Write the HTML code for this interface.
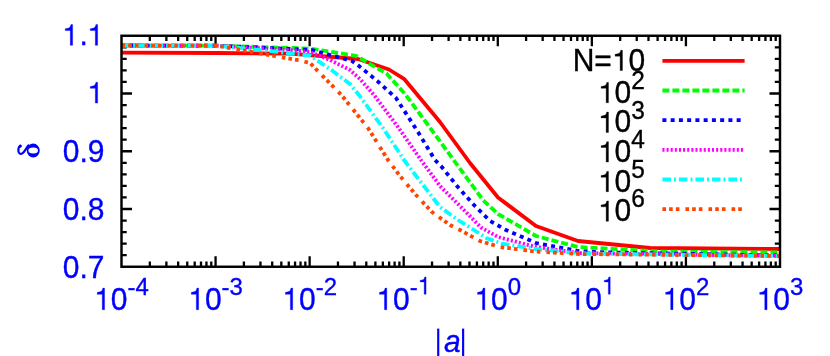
<!DOCTYPE html>
<html><head><meta charset="utf-8"><title>plot</title>
<style>html,body{margin:0;padding:0;background:#fff;overflow:hidden}svg{display:block;will-change:transform}text{font-family:"Liberation Sans",sans-serif}</style>
</head><body>
<svg width="830" height="356" viewBox="0 0 830 356">
<rect x="0" y="0" width="830" height="356" fill="#ffffff"/>
<g stroke="#000" stroke-width="2.3" fill="none" stroke-linecap="butt">
<path d="M149.82 266.75L149.82 261.55M149.82 35.75L149.82 40.95M166.38 266.75L166.38 261.55M166.38 35.75L166.38 40.95M178.14 266.75L178.14 261.55M178.14 35.75L178.14 40.95M187.25 266.75L187.25 261.55M187.25 35.75L187.25 40.95M194.70 266.75L194.70 261.55M194.70 35.75L194.70 40.95M201.00 266.75L201.00 261.55M201.00 35.75L201.00 40.95M206.45 266.75L206.45 261.55M206.45 35.75L206.45 40.95M211.27 266.75L211.27 261.55M211.27 35.75L211.27 40.95M215.57 266.75L215.57 256.25M215.57 35.75L215.57 46.25M243.89 266.75L243.89 261.55M243.89 35.75L243.89 40.95M260.45 266.75L260.45 261.55M260.45 35.75L260.45 40.95M272.21 266.75L272.21 261.55M272.21 35.75L272.21 40.95M281.32 266.75L281.32 261.55M281.32 35.75L281.32 40.95M288.77 266.75L288.77 261.55M288.77 35.75L288.77 40.95M295.07 266.75L295.07 261.55M295.07 35.75L295.07 40.95M300.53 266.75L300.53 261.55M300.53 35.75L300.53 40.95M305.34 266.75L305.34 261.55M305.34 35.75L305.34 40.95M309.64 266.75L309.64 256.25M309.64 35.75L309.64 46.25M337.96 266.75L337.96 261.55M337.96 35.75L337.96 40.95M354.53 266.75L354.53 261.55M354.53 35.75L354.53 40.95M366.28 266.75L366.28 261.55M366.28 35.75L366.28 40.95M375.40 266.75L375.40 261.55M375.40 35.75L375.40 40.95M382.84 266.75L382.84 261.55M382.84 35.75L382.84 40.95M389.14 266.75L389.14 261.55M389.14 35.75L389.14 40.95M394.60 266.75L394.60 261.55M394.60 35.75L394.60 40.95M399.41 266.75L399.41 261.55M399.41 35.75L399.41 40.95M403.71 266.75L403.71 256.25M403.71 35.75L403.71 46.25M432.03 266.75L432.03 261.55M432.03 35.75L432.03 40.95M448.60 266.75L448.60 261.55M448.60 35.75L448.60 40.95M460.35 266.75L460.35 261.55M460.35 35.75L460.35 40.95M469.47 266.75L469.47 261.55M469.47 35.75L469.47 40.95M476.92 266.75L476.92 261.55M476.92 35.75L476.92 40.95M483.21 266.75L483.21 261.55M483.21 35.75L483.21 40.95M488.67 266.75L488.67 261.55M488.67 35.75L488.67 40.95M493.48 266.75L493.48 261.55M493.48 35.75L493.48 40.95M497.79 266.75L497.79 256.25M497.79 35.75L497.79 46.25M526.10 266.75L526.10 261.55M526.10 35.75L526.10 40.95M542.67 266.75L542.67 261.55M542.67 35.75L542.67 40.95M554.42 266.75L554.42 261.55M554.42 35.75L554.42 40.95M563.54 266.75L563.54 261.55M563.54 35.75L563.54 40.95M570.99 266.75L570.99 261.55M570.99 35.75L570.99 40.95M577.29 266.75L577.29 261.55M577.29 35.75L577.29 40.95M582.74 266.75L582.74 261.55M582.74 35.75L582.74 40.95M587.55 266.75L587.55 261.55M587.55 35.75L587.55 40.95M591.86 266.75L591.86 256.25M591.86 35.75L591.86 46.25M620.18 266.75L620.18 261.55M620.18 35.75L620.18 40.95M636.74 266.75L636.74 261.55M636.74 35.75L636.74 40.95M648.49 266.75L648.49 261.55M648.49 35.75L648.49 40.95M657.61 266.75L657.61 261.55M657.61 35.75L657.61 40.95M665.06 266.75L665.06 261.55M665.06 35.75L665.06 40.95M671.36 266.75L671.36 261.55M671.36 35.75L671.36 40.95M676.81 266.75L676.81 261.55M676.81 35.75L676.81 40.95M681.62 266.75L681.62 261.55M681.62 35.75L681.62 40.95M685.93 266.75L685.93 256.25M685.93 35.75L685.93 46.25M714.25 266.75L714.25 261.55M714.25 35.75L714.25 40.95M730.81 266.75L730.81 261.55M730.81 35.75L730.81 40.95M742.57 266.75L742.57 261.55M742.57 35.75L742.57 40.95M751.68 266.75L751.68 261.55M751.68 35.75L751.68 40.95M759.13 266.75L759.13 261.55M759.13 35.75L759.13 40.95M765.43 266.75L765.43 261.55M765.43 35.75L765.43 40.95M770.88 266.75L770.88 261.55M770.88 35.75L770.88 40.95M775.70 266.75L775.70 261.55M775.70 35.75L775.70 40.95M121.50 255.20L126.70 255.20M780.00 255.20L774.80 255.20M121.50 243.65L126.70 243.65M780.00 243.65L774.80 243.65M121.50 232.10L126.70 232.10M780.00 232.10L774.80 232.10M121.50 220.55L126.70 220.55M780.00 220.55L774.80 220.55M121.50 209.00L132.00 209.00M780.00 209.00L769.50 209.00M121.50 197.45L126.70 197.45M780.00 197.45L774.80 197.45M121.50 185.90L126.70 185.90M780.00 185.90L774.80 185.90M121.50 174.35L126.70 174.35M780.00 174.35L774.80 174.35M121.50 162.80L126.70 162.80M780.00 162.80L774.80 162.80M121.50 151.25L132.00 151.25M780.00 151.25L769.50 151.25M121.50 139.70L126.70 139.70M780.00 139.70L774.80 139.70M121.50 128.15L126.70 128.15M780.00 128.15L774.80 128.15M121.50 116.60L126.70 116.60M780.00 116.60L774.80 116.60M121.50 105.05L126.70 105.05M780.00 105.05L774.80 105.05M121.50 93.50L132.00 93.50M780.00 93.50L769.50 93.50M121.50 81.95L126.70 81.95M780.00 81.95L774.80 81.95M121.50 70.40L126.70 70.40M780.00 70.40L774.80 70.40M121.50 58.85L126.70 58.85M780.00 58.85L774.80 58.85M121.50 47.30L126.70 47.30M780.00 47.30L774.80 47.30"/>
</g>
<g fill="none" stroke-width="3.8" stroke-linejoin="round" stroke-linecap="butt">
<polyline stroke="#ff0000" points="121.5,52.6 216.0,53.0 290.0,53.6 358.0,59.0 389.0,69.5 404.0,78.8 440.0,122.0 470.0,163.0 498.0,197.5 536.0,226.0 578.0,241.0 650.0,248.0 780.0,249.0"/>
<polyline stroke="#00ff00" stroke-dasharray="7 3" points="121.5,45.5 216.0,45.6 310.0,48.6 356.0,55.8 386.5,73.5 405.0,94.0 428.0,125.0 458.0,166.0 483.0,200.0 498.0,214.0 536.0,236.0 578.0,247.0 660.0,251.6 780.0,252.5"/>
<polyline stroke="#0000ff" stroke-dasharray="4 4.25" points="121.5,45.5 216.0,45.6 290.0,49.0 312.0,50.0 352.0,61.0 359.0,66.0 378.0,81.6 396.0,98.0 418.0,132.0 435.0,160.0 441.0,166.0 457.0,186.0 474.0,205.0 490.0,221.0 506.0,230.0 536.0,243.0 578.0,251.0 606.0,252.4 780.0,255.5"/>
<polyline stroke="#ff00ff" stroke-dasharray="2.1 2.03" points="121.5,45.5 216.0,45.6 290.0,50.0 310.0,52.0 330.0,60.0 350.0,70.0 360.0,79.0 374.0,95.0 398.0,127.0 421.0,160.0 440.0,186.0 460.0,206.0 481.0,227.5 498.0,237.0 536.0,247.0 580.0,253.0 780.0,256.0"/>
<polyline stroke="#00ffff" stroke-dasharray="8.6 3 1.9 3" points="121.5,45.5 216.0,45.6 270.0,51.0 310.0,55.6 330.0,69.0 350.0,84.0 359.0,95.0 383.0,128.0 404.0,160.0 423.0,185.0 440.0,207.0 458.0,220.0 474.0,230.0 486.0,238.0 502.0,243.6 536.0,249.0 580.0,253.6 780.0,256.0"/>
<polyline stroke="#ff4500" stroke-dasharray="3.6 3.1 3.6 3.1 3.6 6.05" points="121.5,45.5 216.0,45.6 250.0,51.6 274.0,56.0 300.0,60.4 310.0,63.0 323.0,76.4 341.0,94.5 368.0,128.0 388.0,160.0 400.0,176.0 416.0,195.0 432.0,212.0 450.0,225.0 460.0,230.0 480.0,241.0 500.0,247.0 536.0,251.6 580.0,254.0 780.0,256.0"/>
<line stroke="#ff0000" x1="662.4" y1="60.9" x2="744.6" y2="60.9"/>
<line stroke="#00ff00" stroke-dasharray="7 3" x1="662.4" y1="90.5" x2="744.6" y2="90.5"/>
<line stroke="#0000ff" stroke-dasharray="4 4.25" x1="662.4" y1="120.2" x2="744.6" y2="120.2"/>
<line stroke="#ff00ff" stroke-dasharray="2.1 2.03" x1="662.4" y1="149.8" x2="744.6" y2="149.8"/>
<line stroke="#00ffff" stroke-dasharray="8.6 3 1.9 3" x1="662.4" y1="179.5" x2="744.6" y2="179.5"/>
<line stroke="#ff4500" stroke-dasharray="3.6 3.1 3.6 3.1 3.6 6.05" x1="662.4" y1="209.1" x2="744.6" y2="209.1"/>
</g>
<rect x="121.50" y="35.75" width="658.50" height="231.00" stroke="#000" stroke-width="2.45" fill="none"/>
<g fill="#0000ff" stroke="#0000ff" stroke-width="0.35" stroke-linejoin="round">
<path d="M70.30 45.35L70.30 30.58L65.26 30.58L65.26 28.74C69.37 28.24 70.30 27.65 70.90 24.61L72.61 24.61L72.61 45.35ZM95.32 45.35L95.32 30.58L90.28 30.58L90.28 28.74C94.39 28.24 95.32 27.65 95.92 24.61L97.63 24.61L97.63 45.35Z"/>
<text transform="translate(79.48,45.35) scale(1,1.035)" font-size="30">.</text>
</g>
<g fill="#0000ff" stroke="#0000ff" stroke-width="0.35" stroke-linejoin="round">
<path d="M95.32 103.10L95.32 88.33L90.28 88.33L90.28 86.49C94.39 85.99 95.32 85.40 95.92 82.36L97.63 82.36L97.63 103.10Z"/>
</g>
<g fill="#0000ff" stroke="#0000ff" stroke-width="0.35" stroke-linejoin="round">
<text transform="translate(62.80,162.15) scale(1,1.035)" font-size="30">0.9</text>
</g>
<g fill="#0000ff" stroke="#0000ff" stroke-width="0.35" stroke-linejoin="round">
<text transform="translate(62.80,219.90) scale(1,1.035)" font-size="30">0.8</text>
</g>
<g fill="#0000ff" stroke="#0000ff" stroke-width="0.35" stroke-linejoin="round">
<text transform="translate(62.80,277.65) scale(1,1.035)" font-size="30">0.7</text>
</g>
<g fill="#0000ff" stroke="#0000ff" stroke-width="0.35" stroke-linejoin="round">
<path d="M102.25 309.70L102.25 294.33L97.21 294.33L97.21 292.41C101.32 291.89 102.25 291.28 102.85 288.12L104.56 288.12L104.56 309.70Z"/>
<text transform="translate(110.83,310.20) scale(1,1.025)" font-size="30">0</text>
<text transform="translate(127.51,294.70) scale(1,1.025)" font-size="24">-4</text>
</g>
<g fill="#0000ff" stroke="#0000ff" stroke-width="0.35" stroke-linejoin="round">
<path d="M196.32 309.70L196.32 294.33L191.28 294.33L191.28 292.41C195.39 291.89 196.32 291.28 196.92 288.12L198.63 288.12L198.63 309.70Z"/>
<text transform="translate(204.90,310.20) scale(1,1.025)" font-size="30">0</text>
<text transform="translate(221.58,294.70) scale(1,1.025)" font-size="24">-3</text>
</g>
<g fill="#0000ff" stroke="#0000ff" stroke-width="0.35" stroke-linejoin="round">
<path d="M290.39 309.70L290.39 294.33L285.35 294.33L285.35 292.41C289.46 291.89 290.39 291.28 290.99 288.12L292.70 288.12L292.70 309.70Z"/>
<text transform="translate(298.97,310.20) scale(1,1.025)" font-size="30">0</text>
<text transform="translate(315.65,294.70) scale(1,1.025)" font-size="24">-2</text>
</g>
<g fill="#0000ff" stroke="#0000ff" stroke-width="0.35" stroke-linejoin="round">
<path d="M384.47 309.70L384.47 294.33L379.43 294.33L379.43 292.41C383.54 291.89 384.47 291.28 385.07 288.12L386.78 288.12L386.78 309.70ZM424.20 294.20L424.20 281.90L420.17 281.90L420.17 280.37C423.45 279.95 424.20 279.47 424.68 276.93L426.05 276.93L426.05 294.20Z"/>
<text transform="translate(393.05,310.20) scale(1,1.025)" font-size="30">0</text>
<text transform="translate(409.73,294.70) scale(1,1.025)" font-size="24">-</text>
</g>
<g fill="#0000ff" stroke="#0000ff" stroke-width="0.35" stroke-linejoin="round">
<path d="M482.53 309.70L482.53 294.33L477.49 294.33L477.49 292.41C481.60 291.89 482.53 291.28 483.13 288.12L484.84 288.12L484.84 309.70Z"/>
<text transform="translate(491.11,310.20) scale(1,1.025)" font-size="30">0</text>
<text transform="translate(507.79,294.70) scale(1,1.025)" font-size="24">0</text>
</g>
<g fill="#0000ff" stroke="#0000ff" stroke-width="0.35" stroke-linejoin="round">
<path d="M576.61 309.70L576.61 294.33L571.57 294.33L571.57 292.41C575.68 291.89 576.61 291.28 577.21 288.12L578.92 288.12L578.92 309.70ZM608.35 294.20L608.35 281.90L604.31 281.90L604.31 280.37C607.60 279.95 608.35 279.47 608.83 276.93L610.19 276.93L610.19 294.20Z"/>
<text transform="translate(585.19,310.20) scale(1,1.025)" font-size="30">0</text>
</g>
<g fill="#0000ff" stroke="#0000ff" stroke-width="0.35" stroke-linejoin="round">
<path d="M670.68 309.70L670.68 294.33L665.64 294.33L665.64 292.41C669.75 291.89 670.68 291.28 671.28 288.12L672.99 288.12L672.99 309.70Z"/>
<text transform="translate(679.26,310.20) scale(1,1.025)" font-size="30">0</text>
<text transform="translate(695.94,294.70) scale(1,1.025)" font-size="24">2</text>
</g>
<g fill="#0000ff" stroke="#0000ff" stroke-width="0.35" stroke-linejoin="round">
<path d="M764.75 309.70L764.75 294.33L759.71 294.33L759.71 292.41C763.82 291.89 764.75 291.28 765.35 288.12L767.06 288.12L767.06 309.70Z"/>
<text transform="translate(773.33,310.20) scale(1,1.025)" font-size="30">0</text>
<text transform="translate(790.01,294.70) scale(1,1.025)" font-size="24">3</text>
</g>
<rect x="437.15" y="328.6" width="2.15" height="30" fill="#0000ff"/><rect x="462.05" y="328.6" width="2.15" height="30" fill="#0000ff"/>
<g fill="#0000ff" stroke="#0000ff" stroke-width="0.35" stroke-linejoin="round">
<text transform="translate(444.11,352.00) scale(1,1.035)" font-size="30" font-style="italic">a</text>
</g>
<g fill="#0000ff" stroke="none"><path fill-rule="evenodd" d="M26.75 150.6a6.5 7 0 1 0 13 0a6.5 7 0 1 0 -13 0ZM28.4 150.55a4.8 3.0 0 1 0 9.6 0a4.8 3.0 0 1 0 -9.6 0Z"/><circle cx="20.3" cy="146.1" r="1.55"/></g>
<path d="M28.6 145.4C26.6 147.4 24.6 152 22.3 153.4C20.5 154.5 18.7 153.7 18.4 151C18.15 148.6 19 146.7 20.2 145.9" fill="none" stroke="#0000ff" stroke-width="2.2" stroke-linecap="round"/>
<g fill="#000" stroke="#000" stroke-width="0.35" stroke-linejoin="round">
<path d="M620.14 70.60L620.14 56.13L615.10 56.13L615.10 54.33C619.21 53.84 620.14 53.27 620.74 50.29L622.45 50.29L622.45 70.60Z"/>
<text transform="translate(572.66,70.60) scale(1,1.03)" font-size="30">N=</text>
<text transform="translate(628.52,70.60) scale(1,1.03)" font-size="30">0</text>
</g>
<g fill="#000" stroke="#000" stroke-width="0.35" stroke-linejoin="round">
<path d="M606.15 102.70L606.15 88.23L601.11 88.23L601.11 86.43C605.22 85.94 606.15 85.37 606.75 82.39L608.46 82.39L608.46 102.70Z"/>
<text transform="translate(614.53,102.70) scale(1,1.03)" font-size="30">0</text>
<text transform="translate(631.21,88.80) scale(1,1.03)" font-size="24.45">2</text>
</g>
<g fill="#000" stroke="#000" stroke-width="0.35" stroke-linejoin="round">
<path d="M606.15 132.40L606.15 117.93L601.11 117.93L601.11 116.13C605.22 115.64 606.15 115.07 606.75 112.09L608.46 112.09L608.46 132.40Z"/>
<text transform="translate(614.53,132.40) scale(1,1.03)" font-size="30">0</text>
<text transform="translate(631.21,118.50) scale(1,1.03)" font-size="24.45">3</text>
</g>
<g fill="#000" stroke="#000" stroke-width="0.35" stroke-linejoin="round">
<path d="M606.15 162.00L606.15 147.53L601.11 147.53L601.11 145.73C605.22 145.24 606.15 144.67 606.75 141.69L608.46 141.69L608.46 162.00Z"/>
<text transform="translate(614.53,162.00) scale(1,1.03)" font-size="30">0</text>
<text transform="translate(631.21,148.10) scale(1,1.03)" font-size="24.45">4</text>
</g>
<g fill="#000" stroke="#000" stroke-width="0.35" stroke-linejoin="round">
<path d="M606.15 191.70L606.15 177.23L601.11 177.23L601.11 175.43C605.22 174.94 606.15 174.37 606.75 171.39L608.46 171.39L608.46 191.70Z"/>
<text transform="translate(614.53,191.70) scale(1,1.03)" font-size="30">0</text>
<text transform="translate(631.21,177.80) scale(1,1.03)" font-size="24.45">5</text>
</g>
<g fill="#000" stroke="#000" stroke-width="0.35" stroke-linejoin="round">
<path d="M606.15 221.30L606.15 206.83L601.11 206.83L601.11 205.03C605.22 204.54 606.15 203.97 606.75 200.99L608.46 200.99L608.46 221.30Z"/>
<text transform="translate(614.53,221.30) scale(1,1.03)" font-size="30">0</text>
<text transform="translate(631.21,207.40) scale(1,1.03)" font-size="24.45">6</text>
</g>
</svg></body></html>
